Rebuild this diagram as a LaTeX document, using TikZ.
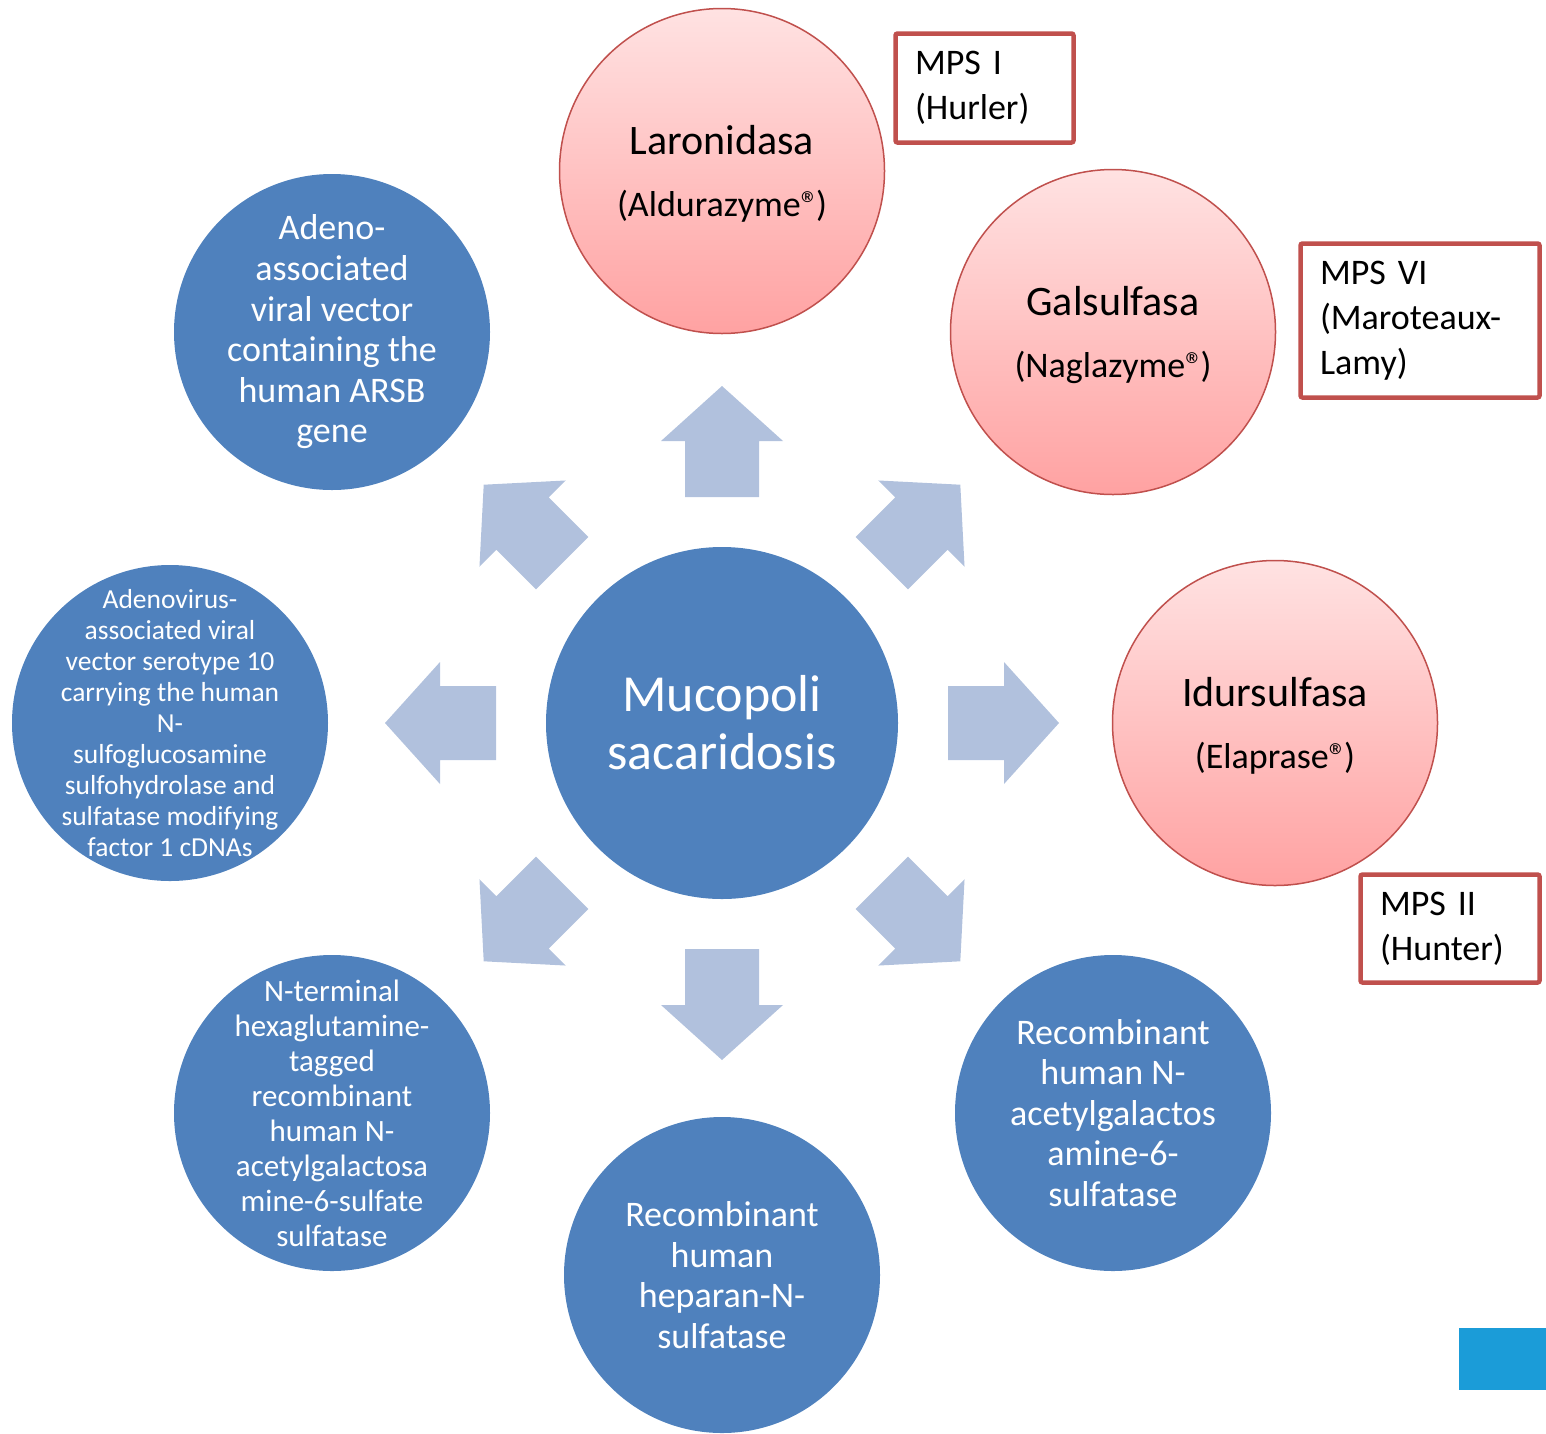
\documentclass[tikz,border=0pt]{standalone}
\usepackage{fontspec}
\setmainfont{Carlito}
\definecolor{cblue}{HTML}{4F81BD}
\definecolor{carrow}{HTML}{B1C1DD}
\definecolor{cred}{HTML}{C0504D}
\definecolor{cpinktop}{HTML}{FFE2E2}
\definecolor{cpinkbot}{HTML}{FFA2A2}
\definecolor{ccyan}{HTML}{1B9CD8}
\tikzset{
  bluecirc/.style={circle, fill=cblue, inner sep=0pt, minimum size=316pt},
  bluetext/.style={text=white, align=center, inner sep=0pt},
  pinkcirc/.style={circle, draw=cred, line width=1.5pt, top color=cpinktop, bottom color=cpinkbot, inner sep=0pt, minimum size=325pt},
  pinktext/.style={align=center, inner sep=0pt, text=black, font=\fontsize{42}{62}\selectfont},
  mpsbox/.style={draw=cred, line width=4.5pt, rounded corners=2pt, fill=white, align=left, inner xsep=19.5pt, inner ysep=0pt, font=\fontsize{36}{45}\selectfont},
  blockarrow/.style={fill=carrow, draw=none}
}
\newcommand{\sub}[1]{{\fontsize{36}{62}\selectfont #1}}
\newcommand{\reg}{®\kern-3pt}
\begin{document}
\begin{tikzpicture}[x=1pt,y=-1pt]
\useasboundingbox (0,0) rectangle (1546,1433);
% arrows
\foreach \a in {0,45,...,315}{
  \begin{scope}[shift={(722,723)}, rotate=\a]
    \fill[blockarrow] (226,-37) -- (282,-37) -- (282,-61) -- (337,0) -- (282,61) -- (282,37) -- (226,37) -- cycle;
  \end{scope}
}
% center
\node[bluecirc, minimum size=352pt] (mps) at (722,723) {};
\node[bluetext, font=\fontsize{52}{58}\selectfont] (mpst) at (mps) {Mucopoli\\sacaridosis};
% pink circles
\node[pinkcirc] (lar) at (722,171) {};
\node[pinktext, yshift=-3pt] (lart) at (lar) {Laronidasa\\\sub{(Aldurazyme\reg)}};
\node[pinkcirc] (gal) at (1113,332) {};
\node[pinktext, yshift=-3pt] (galt) at (gal) {Galsulfasa\\\sub{(Naglazyme\reg)}};
\node[pinkcirc] (idu) at (1275,723) {};
\node[pinktext, yshift=-3pt] (idut) at (idu) {Idursulfasa\\\sub{(Elaprase\reg)}};
% blue circles
\node[bluecirc] (aav) at (332,332) {};
\node[bluetext, font=\fontsize{36}{40.6}\selectfont] (aavt) at (aav) {Adeno-\\associated\\viral vector\\containing the\\human ARSB\\gene};
\node[bluecirc] (adv) at (170,723) {};
\node[bluetext, font=\fontsize{27.5}{31}\selectfont] (advt) at (adv) {Adenovirus-\\associated viral\\vector serotype 10\\carrying the human\\N-\\sulfoglucosamine\\sulfohydrolase and\\sulfatase modifying\\factor 1 cDNAs};
\node[bluecirc] (nterm) at (332,1113) {};
\node[bluetext, font=\fontsize{31}{35}\selectfont] (ntermt) at (nterm) {N-terminal\\hexaglutamine-\\tagged\\recombinant\\human N-\\acetylgalactosa\\mine-6-sulfate\\sulfatase};
\node[bluecirc] (hep) at (722,1275) {};
\node[bluetext, font=\fontsize{36}{40.7}\selectfont] (hept) at (hep) {Recombinant\\human\\heparan-N-\\sulfatase};
\node[bluecirc] (galns) at (1113,1113) {};
\node[bluetext, font=\fontsize{36}{40.5}\selectfont] (galnst) at (galns) {Recombinant\\human N-\\acetylgalactos\\amine-6-\\sulfatase};
% MPS boxes
\node[mpsbox, text width=139pt, minimum height=109pt] (b1) at (984.5,88) {MPS I\\(Hurler)};
\node[mpsbox, text width=200pt, minimum height=154pt] (b6) at (1420,320.5) {MPS VI\\(Maroteaux-\\Lamy)};
\node[mpsbox, text width=140pt, minimum height=108pt] (b2) at (1450,928.5) {MPS II\\(Hunter)};
% corner rectangle
\fill[ccyan] (1459,1328) rectangle (1546,1390);
\end{tikzpicture}
\end{document}
